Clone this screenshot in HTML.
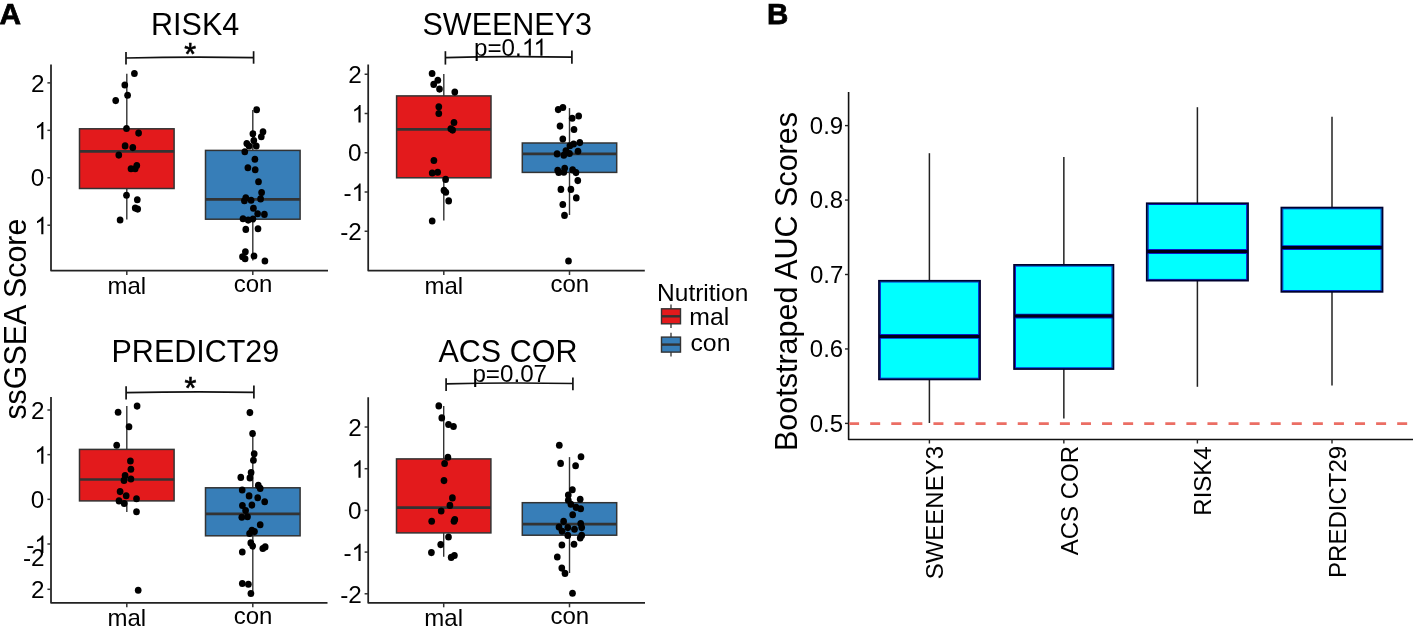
<!DOCTYPE html>
<html><head><meta charset="utf-8"><style>
html,body{margin:0;padding:0;background:#fff;}
svg{display:block;will-change:transform;}
text{font-family:"Liberation Sans", sans-serif;}
</style></head><body>
<svg width="1417" height="628" viewBox="0 0 1417 628">
<rect width="1417" height="628" fill="#fff"/>
<g transform="translate(151.07 35.20) scale(1 1.02)"><text x="0.00" font-size="30.5">RISK4</text></g>
<line x1="126.8" y1="73.8" x2="126.8" y2="128.8" stroke="#333333" stroke-width="1.4"/>
<line x1="126.8" y1="188.5" x2="126.8" y2="219.6" stroke="#333333" stroke-width="1.4"/>
<rect x="79.5" y="128.8" width="94.6" height="59.69999999999999" fill="#E31A1C" stroke="#333333" stroke-width="1.5"/>
<line x1="79.5" y1="151.4" x2="174.1" y2="151.4" stroke="#333333" stroke-width="2.7"/>
<line x1="252.8" y1="110.0" x2="252.8" y2="150.4" stroke="#333333" stroke-width="1.4"/>
<line x1="252.8" y1="219.2" x2="252.8" y2="260.5" stroke="#333333" stroke-width="1.4"/>
<rect x="205.5" y="150.4" width="94.6" height="68.79999999999998" fill="#377EB8" stroke="#333333" stroke-width="1.5"/>
<line x1="205.5" y1="199.4" x2="300.1" y2="199.4" stroke="#333333" stroke-width="2.7"/>
<ellipse cx="134.4" cy="73.5" rx="3.35" ry="3.55"/>
<ellipse cx="124.8" cy="85.0" rx="3.35" ry="3.55"/>
<ellipse cx="127.6" cy="95.2" rx="3.35" ry="3.55"/>
<ellipse cx="115.7" cy="100.6" rx="3.35" ry="3.55"/>
<ellipse cx="126.5" cy="128.5" rx="3.35" ry="3.55"/>
<ellipse cx="138.6" cy="133.1" rx="3.35" ry="3.55"/>
<ellipse cx="125.1" cy="145.9" rx="3.35" ry="3.55"/>
<ellipse cx="132.8" cy="147.6" rx="3.35" ry="3.55"/>
<ellipse cx="118.8" cy="155.1" rx="3.35" ry="3.55"/>
<ellipse cx="131" cy="168.8" rx="3.35" ry="3.55"/>
<ellipse cx="135.2" cy="168.8" rx="3.35" ry="3.55"/>
<ellipse cx="136.8" cy="165.5" rx="3.35" ry="3.55"/>
<ellipse cx="126.5" cy="195.2" rx="3.35" ry="3.55"/>
<ellipse cx="137.3" cy="199.7" rx="3.35" ry="3.55"/>
<ellipse cx="135.2" cy="208.1" rx="3.35" ry="3.55"/>
<ellipse cx="137.7" cy="209.1" rx="3.35" ry="3.55"/>
<ellipse cx="120.1" cy="220" rx="3.35" ry="3.55"/>
<ellipse cx="256.7" cy="109.7" rx="3.35" ry="3.55"/>
<ellipse cx="252.9" cy="133.8" rx="3.35" ry="3.55"/>
<ellipse cx="263" cy="131.8" rx="3.35" ry="3.55"/>
<ellipse cx="261.3" cy="136.8" rx="3.35" ry="3.55"/>
<ellipse cx="253.8" cy="140.6" rx="3.35" ry="3.55"/>
<ellipse cx="246.8" cy="143.6" rx="3.35" ry="3.55"/>
<ellipse cx="249.1" cy="146" rx="3.35" ry="3.55"/>
<ellipse cx="256.3" cy="146" rx="3.35" ry="3.55"/>
<ellipse cx="244.8" cy="151.7" rx="3.35" ry="3.55"/>
<ellipse cx="254.9" cy="159.2" rx="3.35" ry="3.55"/>
<ellipse cx="247.9" cy="167.7" rx="3.35" ry="3.55"/>
<ellipse cx="255.2" cy="169.7" rx="3.35" ry="3.55"/>
<ellipse cx="258.5" cy="181.8" rx="3.35" ry="3.55"/>
<ellipse cx="261.6" cy="192.6" rx="3.35" ry="3.55"/>
<ellipse cx="245.8" cy="197.9" rx="3.35" ry="3.55"/>
<ellipse cx="244.4" cy="200.8" rx="3.35" ry="3.55"/>
<ellipse cx="251.1" cy="200.3" rx="3.35" ry="3.55"/>
<ellipse cx="260.6" cy="198.9" rx="3.35" ry="3.55"/>
<ellipse cx="253.4" cy="208.2" rx="3.35" ry="3.55"/>
<ellipse cx="257.6" cy="213.7" rx="3.35" ry="3.55"/>
<ellipse cx="264.4" cy="214.4" rx="3.35" ry="3.55"/>
<ellipse cx="243" cy="218.7" rx="3.35" ry="3.55"/>
<ellipse cx="248.2" cy="220.1" rx="3.35" ry="3.55"/>
<ellipse cx="253" cy="219" rx="3.35" ry="3.55"/>
<ellipse cx="245.8" cy="229.4" rx="3.35" ry="3.55"/>
<ellipse cx="258" cy="228.7" rx="3.35" ry="3.55"/>
<ellipse cx="245.4" cy="251.7" rx="3.35" ry="3.55"/>
<ellipse cx="242.5" cy="256.7" rx="3.35" ry="3.55"/>
<ellipse cx="245.1" cy="258.8" rx="3.35" ry="3.55"/>
<ellipse cx="254" cy="256" rx="3.35" ry="3.55"/>
<ellipse cx="264.9" cy="261" rx="3.35" ry="3.55"/>
<path d="M51 64.5 V270.5 H328" fill="none" stroke="#222" stroke-width="1.75" stroke-linejoin="round"/>
<line x1="47.4" y1="82.87" x2="51" y2="82.87" stroke="#333" stroke-width="1.5"/>
<g transform="translate(31.11 91.65)"><text x="0.00" font-size="24.3">2</text></g>
<line x1="47.4" y1="130.32" x2="51" y2="130.32" stroke="#333" stroke-width="1.5"/>
<g transform="translate(34.35 139.35)"><path d="M9.05 0.00L6.92 0.00L6.92 -13.61Q6.15 -12.87 4.98 -12.19Q3.68 -11.41 2.65 -11.03L2.65 -13.10Q4.44 -13.94 5.78 -15.14Q7.12 -16.34 7.68 -17.47L9.05 -17.47Z"/></g>
<line x1="47.4" y1="177.77" x2="51" y2="177.77" stroke="#333" stroke-width="1.5"/>
<g transform="translate(30.83 186.43)"><text x="0.00" font-size="24.3">0</text></g>
<line x1="47.4" y1="225.22000000000003" x2="51" y2="225.22000000000003" stroke="#333" stroke-width="1.5"/>
<g transform="translate(34.35 234.25)"><path d="M9.05 0.00L6.92 0.00L6.92 -13.61Q6.15 -12.87 4.98 -12.19Q3.68 -11.41 2.65 -11.03L2.65 -13.10Q4.44 -13.94 5.78 -15.14Q7.12 -16.34 7.68 -17.47L9.05 -17.47Z"/></g>
<line x1="126.8" y1="270.5" x2="126.8" y2="275.0" stroke="#333" stroke-width="1.5"/>
<g transform="translate(107.47 293.78)"><text x="0.00" font-size="24">mal</text></g>
<line x1="252.8" y1="270.5" x2="252.8" y2="275.0" stroke="#333" stroke-width="1.5"/>
<g transform="translate(233.72 291.54)"><text x="0.00" font-size="24">con</text></g>
<line x1="126" y1="52" x2="126" y2="64.5" stroke="#111" stroke-width="1.7"/>
<line x1="253.6" y1="51.2" x2="253.6" y2="63.7" stroke="#111" stroke-width="1.7"/>
<path d="M126 58.0 Q189.8 56.4 253.6 57.6" fill="none" stroke="#111" stroke-width="1.7"/>
<g transform="translate(184.26 65.30)" stroke="#000" stroke-width="0.6"><text x="0.00" font-size="30.5">*</text></g>
<g transform="translate(422.53 35.20) scale(1 1.02)"><text x="0.00" font-size="30.5">SWEENEY3</text></g>
<line x1="443.8" y1="74.0" x2="443.8" y2="95.9" stroke="#333333" stroke-width="1.4"/>
<line x1="443.8" y1="177.8" x2="443.8" y2="220.5" stroke="#333333" stroke-width="1.4"/>
<rect x="396.6" y="95.9" width="94.4" height="81.9" fill="#E31A1C" stroke="#333333" stroke-width="1.5"/>
<line x1="396.6" y1="129.4" x2="491.0" y2="129.4" stroke="#333333" stroke-width="2.7"/>
<line x1="569.5" y1="108.1" x2="569.5" y2="143.0" stroke="#333333" stroke-width="1.4"/>
<line x1="569.5" y1="172.4" x2="569.5" y2="215.0" stroke="#333333" stroke-width="1.4"/>
<rect x="522.3" y="143.0" width="94.4" height="29.400000000000006" fill="#377EB8" stroke="#333333" stroke-width="1.5"/>
<line x1="522.3" y1="153.8" x2="616.7" y2="153.8" stroke="#333333" stroke-width="2.7"/>
<ellipse cx="432.1" cy="73.5" rx="3.35" ry="3.55"/>
<ellipse cx="437.8" cy="80.3" rx="3.35" ry="3.55"/>
<ellipse cx="433.7" cy="84.4" rx="3.35" ry="3.55"/>
<ellipse cx="439.5" cy="89.1" rx="3.35" ry="3.55"/>
<ellipse cx="454.8" cy="92.1" rx="3.35" ry="3.55"/>
<ellipse cx="438.8" cy="106.7" rx="3.35" ry="3.55"/>
<ellipse cx="438.8" cy="113.5" rx="3.35" ry="3.55"/>
<ellipse cx="454" cy="122.5" rx="3.35" ry="3.55"/>
<ellipse cx="450.8" cy="128.8" rx="3.35" ry="3.55"/>
<ellipse cx="452.6" cy="130.1" rx="3.35" ry="3.55"/>
<ellipse cx="433.9" cy="160.5" rx="3.35" ry="3.55"/>
<ellipse cx="432.2" cy="173" rx="3.35" ry="3.55"/>
<ellipse cx="437.7" cy="172.2" rx="3.35" ry="3.55"/>
<ellipse cx="445.6" cy="179.4" rx="3.35" ry="3.55"/>
<ellipse cx="444" cy="190.4" rx="3.35" ry="3.55"/>
<ellipse cx="445.8" cy="192.3" rx="3.35" ry="3.55"/>
<ellipse cx="448.7" cy="200.9" rx="3.35" ry="3.55"/>
<ellipse cx="432.2" cy="221" rx="3.35" ry="3.55"/>
<ellipse cx="558.2" cy="109.6" rx="3.35" ry="3.55"/>
<ellipse cx="562.9" cy="107.5" rx="3.35" ry="3.55"/>
<ellipse cx="572.2" cy="118.3" rx="3.35" ry="3.55"/>
<ellipse cx="578.7" cy="116" rx="3.35" ry="3.55"/>
<ellipse cx="560" cy="126.1" rx="3.35" ry="3.55"/>
<ellipse cx="574" cy="129.5" rx="3.35" ry="3.55"/>
<ellipse cx="562.8" cy="139" rx="3.35" ry="3.55"/>
<ellipse cx="569.9" cy="145.8" rx="3.35" ry="3.55"/>
<ellipse cx="573.6" cy="144" rx="3.35" ry="3.55"/>
<ellipse cx="579.8" cy="142.6" rx="3.35" ry="3.55"/>
<ellipse cx="578" cy="151.2" rx="3.35" ry="3.55"/>
<ellipse cx="565.9" cy="150.8" rx="3.35" ry="3.55"/>
<ellipse cx="557.1" cy="153.9" rx="3.35" ry="3.55"/>
<ellipse cx="563.8" cy="155.2" rx="3.35" ry="3.55"/>
<ellipse cx="569.5" cy="153.5" rx="3.35" ry="3.55"/>
<ellipse cx="557.7" cy="170.2" rx="3.35" ry="3.55"/>
<ellipse cx="564.7" cy="168.2" rx="3.35" ry="3.55"/>
<ellipse cx="558.7" cy="172.4" rx="3.35" ry="3.55"/>
<ellipse cx="563.8" cy="172.3" rx="3.35" ry="3.55"/>
<ellipse cx="572.6" cy="169.9" rx="3.35" ry="3.55"/>
<ellipse cx="576" cy="172.6" rx="3.35" ry="3.55"/>
<ellipse cx="577.8" cy="180.6" rx="3.35" ry="3.55"/>
<ellipse cx="560.9" cy="189.4" rx="3.35" ry="3.55"/>
<ellipse cx="570.9" cy="189.4" rx="3.35" ry="3.55"/>
<ellipse cx="576.3" cy="197.9" rx="3.35" ry="3.55"/>
<ellipse cx="562.8" cy="204.5" rx="3.35" ry="3.55"/>
<ellipse cx="564.5" cy="215.4" rx="3.35" ry="3.55"/>
<ellipse cx="568.5" cy="261" rx="3.35" ry="3.55"/>
<path d="M368.2 64.5 V270.5 H644.8" fill="none" stroke="#222" stroke-width="1.75" stroke-linejoin="round"/>
<line x1="364.59999999999997" y1="74.25" x2="368.2" y2="74.25" stroke="#333" stroke-width="1.5"/>
<g transform="translate(348.31 83.03)"><text x="0.00" font-size="24.3">2</text></g>
<line x1="364.59999999999997" y1="113.5" x2="368.2" y2="113.5" stroke="#333" stroke-width="1.5"/>
<g transform="translate(351.55 122.53)"><path d="M9.05 0.00L6.92 0.00L6.92 -13.61Q6.15 -12.87 4.98 -12.19Q3.68 -11.41 2.65 -11.03L2.65 -13.10Q4.44 -13.94 5.78 -15.14Q7.12 -16.34 7.68 -17.47L9.05 -17.47Z"/></g>
<line x1="364.59999999999997" y1="152.75" x2="368.2" y2="152.75" stroke="#333" stroke-width="1.5"/>
<g transform="translate(348.03 161.41)"><text x="0.00" font-size="24.3">0</text></g>
<line x1="364.59999999999997" y1="192.0" x2="368.2" y2="192.0" stroke="#333" stroke-width="1.5"/>
<g transform="translate(343.45 201.03)"><text x="0.00" font-size="24.3">-</text><path d="M17.15 0.00L15.01 0.00L15.01 -13.61Q14.24 -12.87 13.08 -12.19Q11.77 -11.41 10.74 -11.03L10.74 -13.10Q12.53 -13.94 13.87 -15.14Q15.21 -16.34 15.77 -17.47L17.15 -17.47Z"/></g>
<line x1="364.59999999999997" y1="231.25" x2="368.2" y2="231.25" stroke="#333" stroke-width="1.5"/>
<g transform="translate(340.22 240.03)"><text x="0.00" font-size="24.3">-2</text></g>
<line x1="443.8" y1="270.5" x2="443.8" y2="275.0" stroke="#333" stroke-width="1.5"/>
<g transform="translate(424.47 293.78)"><text x="0.00" font-size="24">mal</text></g>
<line x1="569.5" y1="270.5" x2="569.5" y2="275.0" stroke="#333" stroke-width="1.5"/>
<g transform="translate(550.42 291.54)"><text x="0.00" font-size="24">con</text></g>
<line x1="445.4" y1="51.2" x2="445.4" y2="64.6" stroke="#111" stroke-width="1.7"/>
<line x1="571.9" y1="50.400000000000006" x2="571.9" y2="63.8" stroke="#111" stroke-width="1.7"/>
<path d="M445.4 57.6 Q508.65 56.0 571.9 57.2" fill="none" stroke="#111" stroke-width="1.7"/>
<g transform="translate(474.04 55.80)"><text x="0.00" font-size="24.2">p=0.</text><path d="M56.79 0.00L54.66 0.00L54.66 -13.55Q53.89 -12.82 52.74 -12.14Q51.44 -11.37 50.41 -10.99L50.41 -13.05Q52.19 -13.88 53.53 -15.08Q54.86 -16.27 55.42 -17.39L56.79 -17.39Z"/><path d="M68.45 0.00L66.33 0.00L66.33 -13.55Q65.56 -12.82 64.40 -12.14Q63.10 -11.37 62.07 -10.99L62.07 -13.05Q63.86 -13.88 65.19 -15.08Q66.53 -16.27 67.08 -17.39L68.45 -17.39Z"/></g>
<g transform="translate(111.52 362.20) scale(1 1.02)"><text x="0.00" font-size="30.5">PREDICT29</text></g>
<line x1="126.8" y1="406.1" x2="126.8" y2="449.4" stroke="#333333" stroke-width="1.4"/>
<line x1="126.8" y1="500.9" x2="126.8" y2="512.1" stroke="#333333" stroke-width="1.4"/>
<rect x="79.5" y="449.4" width="94.6" height="51.5" fill="#E31A1C" stroke="#333333" stroke-width="1.5"/>
<line x1="79.5" y1="479.5" x2="174.1" y2="479.5" stroke="#333333" stroke-width="2.7"/>
<line x1="252.8" y1="434.0" x2="252.8" y2="487.8" stroke="#333333" stroke-width="1.4"/>
<line x1="252.8" y1="535.8" x2="252.8" y2="591.3" stroke="#333333" stroke-width="1.4"/>
<rect x="205.5" y="487.8" width="94.6" height="47.99999999999994" fill="#377EB8" stroke="#333333" stroke-width="1.5"/>
<line x1="205.5" y1="513.8" x2="300.1" y2="513.8" stroke="#333333" stroke-width="2.7"/>
<ellipse cx="137.1" cy="406.1" rx="3.35" ry="3.55"/>
<ellipse cx="118.1" cy="412.3" rx="3.35" ry="3.55"/>
<ellipse cx="129" cy="426.8" rx="3.35" ry="3.55"/>
<ellipse cx="116.7" cy="445.2" rx="3.35" ry="3.55"/>
<ellipse cx="130.4" cy="461" rx="3.35" ry="3.55"/>
<ellipse cx="130.9" cy="469.3" rx="3.35" ry="3.55"/>
<ellipse cx="125.1" cy="475.6" rx="3.35" ry="3.55"/>
<ellipse cx="130.9" cy="479" rx="3.35" ry="3.55"/>
<ellipse cx="124" cy="480.4" rx="3.35" ry="3.55"/>
<ellipse cx="120.1" cy="491.6" rx="3.35" ry="3.55"/>
<ellipse cx="126.2" cy="495.7" rx="3.35" ry="3.55"/>
<ellipse cx="136.5" cy="498.8" rx="3.35" ry="3.55"/>
<ellipse cx="119" cy="500.9" rx="3.35" ry="3.55"/>
<ellipse cx="124.2" cy="503.5" rx="3.35" ry="3.55"/>
<ellipse cx="136.5" cy="511.8" rx="3.35" ry="3.55"/>
<ellipse cx="138.2" cy="590.3" rx="3.35" ry="3.55"/>
<ellipse cx="249.9" cy="412.6" rx="3.35" ry="3.55"/>
<ellipse cx="252.6" cy="433.6" rx="3.35" ry="3.55"/>
<ellipse cx="254.2" cy="453.7" rx="3.35" ry="3.55"/>
<ellipse cx="253.4" cy="460.2" rx="3.35" ry="3.55"/>
<ellipse cx="251.1" cy="472.6" rx="3.35" ry="3.55"/>
<ellipse cx="240.8" cy="477.4" rx="3.35" ry="3.55"/>
<ellipse cx="249.9" cy="477.9" rx="3.35" ry="3.55"/>
<ellipse cx="258.3" cy="485.4" rx="3.35" ry="3.55"/>
<ellipse cx="260.2" cy="488.4" rx="3.35" ry="3.55"/>
<ellipse cx="242.2" cy="490" rx="3.35" ry="3.55"/>
<ellipse cx="249.1" cy="495.9" rx="3.35" ry="3.55"/>
<ellipse cx="257.7" cy="497.8" rx="3.35" ry="3.55"/>
<ellipse cx="264.7" cy="501.7" rx="3.35" ry="3.55"/>
<ellipse cx="242.4" cy="505.5" rx="3.35" ry="3.55"/>
<ellipse cx="251.9" cy="505.1" rx="3.35" ry="3.55"/>
<ellipse cx="245.6" cy="510.6" rx="3.35" ry="3.55"/>
<ellipse cx="241.8" cy="517.2" rx="3.35" ry="3.55"/>
<ellipse cx="247.5" cy="516.7" rx="3.35" ry="3.55"/>
<ellipse cx="260.2" cy="524.8" rx="3.35" ry="3.55"/>
<ellipse cx="251.9" cy="530.3" rx="3.35" ry="3.55"/>
<ellipse cx="254.5" cy="531.6" rx="3.35" ry="3.55"/>
<ellipse cx="249.6" cy="533.5" rx="3.35" ry="3.55"/>
<ellipse cx="250.8" cy="542.9" rx="3.35" ry="3.55"/>
<ellipse cx="252.7" cy="546.1" rx="3.35" ry="3.55"/>
<ellipse cx="262.8" cy="548.5" rx="3.35" ry="3.55"/>
<ellipse cx="265.2" cy="546.9" rx="3.35" ry="3.55"/>
<ellipse cx="242.3" cy="552" rx="3.35" ry="3.55"/>
<ellipse cx="242.3" cy="583.5" rx="3.35" ry="3.55"/>
<ellipse cx="248.4" cy="584.3" rx="3.35" ry="3.55"/>
<ellipse cx="250.9" cy="593.5" rx="3.35" ry="3.55"/>
<path d="M51 397 V602.8 H327.5" fill="none" stroke="#222" stroke-width="1.75" stroke-linejoin="round"/>
<line x1="47.4" y1="409.99" x2="51" y2="409.99" stroke="#333" stroke-width="1.5"/>
<g transform="translate(31.11 418.77)"><text x="0.00" font-size="24.3">2</text></g>
<line x1="47.4" y1="454.65999999999997" x2="51" y2="454.65999999999997" stroke="#333" stroke-width="1.5"/>
<g transform="translate(34.35 463.69)"><path d="M9.05 0.00L6.92 0.00L6.92 -13.61Q6.15 -12.87 4.98 -12.19Q3.68 -11.41 2.65 -11.03L2.65 -13.10Q4.44 -13.94 5.78 -15.14Q7.12 -16.34 7.68 -17.47L9.05 -17.47Z"/></g>
<line x1="47.4" y1="499.33" x2="51" y2="499.33" stroke="#333" stroke-width="1.5"/>
<g transform="translate(30.83 507.99)"><text x="0.00" font-size="24.3">0</text></g>
<line x1="47.4" y1="544.0" x2="51" y2="544.0" stroke="#333" stroke-width="1.5"/>
<g transform="translate(26.25 553.03)"><text x="0.00" font-size="24.3">-</text><path d="M17.15 0.00L15.01 0.00L15.01 -13.61Q14.24 -12.87 13.08 -12.19Q11.77 -11.41 10.74 -11.03L10.74 -13.10Q12.53 -13.94 13.87 -15.14Q15.21 -16.34 15.77 -17.47L17.15 -17.47Z"/></g>
<g transform="translate(23.02 566.08)"><text x="0.00" font-size="24.3">-2</text></g>
<line x1="47.4" y1="589.3" x2="51" y2="589.3" stroke="#333" stroke-width="1.5"/>
<g transform="translate(31.11 598.08)"><text x="0.00" font-size="24.3">2</text></g>
<line x1="126.8" y1="602.8" x2="126.8" y2="607.3" stroke="#333" stroke-width="1.5"/>
<g transform="translate(107.47 626.08)"><text x="0.00" font-size="24">mal</text></g>
<line x1="252.8" y1="602.8" x2="252.8" y2="607.3" stroke="#333" stroke-width="1.5"/>
<g transform="translate(233.72 623.84)"><text x="0.00" font-size="24">con</text></g>
<line x1="126.1" y1="386.3" x2="126.1" y2="399.4" stroke="#111" stroke-width="1.7"/>
<line x1="253.9" y1="385.5" x2="253.9" y2="398.59999999999997" stroke="#111" stroke-width="1.7"/>
<path d="M126.1 392.7 Q190.0 391.1 253.9 392.3" fill="none" stroke="#111" stroke-width="1.7"/>
<g transform="translate(184.46 399.20)" stroke="#000" stroke-width="0.6"><text x="0.00" font-size="30.5">*</text></g>
<g transform="translate(438.50 362.00) scale(1 1.02)"><text x="0.00" font-size="30.5">ACS COR</text></g>
<line x1="443.7" y1="406.1" x2="443.7" y2="458.9" stroke="#333333" stroke-width="1.4"/>
<line x1="443.7" y1="532.9" x2="443.7" y2="556.8" stroke="#333333" stroke-width="1.4"/>
<rect x="396.5" y="458.9" width="94.4" height="74.0" fill="#E31A1C" stroke="#333333" stroke-width="1.5"/>
<line x1="396.5" y1="507.6" x2="490.9" y2="507.6" stroke="#333333" stroke-width="2.7"/>
<line x1="569.5" y1="457.1" x2="569.5" y2="502.7" stroke="#333333" stroke-width="1.4"/>
<line x1="569.5" y1="535.2" x2="569.5" y2="573.0" stroke="#333333" stroke-width="1.4"/>
<rect x="522.3" y="502.7" width="94.4" height="32.50000000000006" fill="#377EB8" stroke="#333333" stroke-width="1.5"/>
<line x1="522.3" y1="524.1" x2="616.7" y2="524.1" stroke="#333333" stroke-width="2.7"/>
<ellipse cx="438.8" cy="405.9" rx="3.35" ry="3.55"/>
<ellipse cx="441.8" cy="417.9" rx="3.35" ry="3.55"/>
<ellipse cx="448.5" cy="424.5" rx="3.35" ry="3.55"/>
<ellipse cx="453.5" cy="426.5" rx="3.35" ry="3.55"/>
<ellipse cx="447.9" cy="457.3" rx="3.35" ry="3.55"/>
<ellipse cx="444.6" cy="463.5" rx="3.35" ry="3.55"/>
<ellipse cx="444" cy="480.6" rx="3.35" ry="3.55"/>
<ellipse cx="452.4" cy="497.9" rx="3.35" ry="3.55"/>
<ellipse cx="449.9" cy="505.4" rx="3.35" ry="3.55"/>
<ellipse cx="441.2" cy="511" rx="3.35" ry="3.55"/>
<ellipse cx="431.7" cy="521.2" rx="3.35" ry="3.55"/>
<ellipse cx="454.8" cy="519.5" rx="3.35" ry="3.55"/>
<ellipse cx="454" cy="521.3" rx="3.35" ry="3.55"/>
<ellipse cx="448.5" cy="537" rx="3.35" ry="3.55"/>
<ellipse cx="440.7" cy="544.6" rx="3.35" ry="3.55"/>
<ellipse cx="431.4" cy="552.6" rx="3.35" ry="3.55"/>
<ellipse cx="451.2" cy="557.4" rx="3.35" ry="3.55"/>
<ellipse cx="454.4" cy="555.5" rx="3.35" ry="3.55"/>
<ellipse cx="559.3" cy="445.3" rx="3.35" ry="3.55"/>
<ellipse cx="581" cy="456.8" rx="3.35" ry="3.55"/>
<ellipse cx="560.6" cy="463.4" rx="3.35" ry="3.55"/>
<ellipse cx="575.6" cy="465.7" rx="3.35" ry="3.55"/>
<ellipse cx="572.4" cy="489.8" rx="3.35" ry="3.55"/>
<ellipse cx="568.3" cy="495" rx="3.35" ry="3.55"/>
<ellipse cx="568.3" cy="500.2" rx="3.35" ry="3.55"/>
<ellipse cx="580.2" cy="499.2" rx="3.35" ry="3.55"/>
<ellipse cx="570.9" cy="504.3" rx="3.35" ry="3.55"/>
<ellipse cx="576.1" cy="507.4" rx="3.35" ry="3.55"/>
<ellipse cx="580.7" cy="508.8" rx="3.35" ry="3.55"/>
<ellipse cx="572.7" cy="514.7" rx="3.35" ry="3.55"/>
<ellipse cx="563.6" cy="521.4" rx="3.35" ry="3.55"/>
<ellipse cx="559" cy="527.1" rx="3.35" ry="3.55"/>
<ellipse cx="562.1" cy="531.2" rx="3.35" ry="3.55"/>
<ellipse cx="567.8" cy="527.6" rx="3.35" ry="3.55"/>
<ellipse cx="574.5" cy="529.2" rx="3.35" ry="3.55"/>
<ellipse cx="580.7" cy="523.5" rx="3.35" ry="3.55"/>
<ellipse cx="581.7" cy="527.6" rx="3.35" ry="3.55"/>
<ellipse cx="567.8" cy="535.4" rx="3.35" ry="3.55"/>
<ellipse cx="581.7" cy="535.4" rx="3.35" ry="3.55"/>
<ellipse cx="580.2" cy="538" rx="3.35" ry="3.55"/>
<ellipse cx="561.9" cy="545" rx="3.35" ry="3.55"/>
<ellipse cx="574" cy="544.3" rx="3.35" ry="3.55"/>
<ellipse cx="557.3" cy="557" rx="3.35" ry="3.55"/>
<ellipse cx="561.8" cy="568.1" rx="3.35" ry="3.55"/>
<ellipse cx="565" cy="573.4" rx="3.35" ry="3.55"/>
<ellipse cx="572.5" cy="593.2" rx="3.35" ry="3.55"/>
<path d="M368.2 397.3 V602.8 H645.0" fill="none" stroke="#222" stroke-width="1.75" stroke-linejoin="round"/>
<line x1="364.59999999999997" y1="427.02" x2="368.2" y2="427.02" stroke="#333" stroke-width="1.5"/>
<g transform="translate(348.31 435.80)"><text x="0.00" font-size="24.3">2</text></g>
<line x1="364.59999999999997" y1="468.71" x2="368.2" y2="468.71" stroke="#333" stroke-width="1.5"/>
<g transform="translate(351.55 477.74)"><path d="M9.05 0.00L6.92 0.00L6.92 -13.61Q6.15 -12.87 4.98 -12.19Q3.68 -11.41 2.65 -11.03L2.65 -13.10Q4.44 -13.94 5.78 -15.14Q7.12 -16.34 7.68 -17.47L9.05 -17.47Z"/></g>
<line x1="364.59999999999997" y1="510.4" x2="368.2" y2="510.4" stroke="#333" stroke-width="1.5"/>
<g transform="translate(348.03 519.06)"><text x="0.00" font-size="24.3">0</text></g>
<line x1="364.59999999999997" y1="552.0899999999999" x2="368.2" y2="552.0899999999999" stroke="#333" stroke-width="1.5"/>
<g transform="translate(343.45 561.12)"><text x="0.00" font-size="24.3">-</text><path d="M17.15 0.00L15.01 0.00L15.01 -13.61Q14.24 -12.87 13.08 -12.19Q11.77 -11.41 10.74 -11.03L10.74 -13.10Q12.53 -13.94 13.87 -15.14Q15.21 -16.34 15.77 -17.47L17.15 -17.47Z"/></g>
<line x1="364.59999999999997" y1="593.78" x2="368.2" y2="593.78" stroke="#333" stroke-width="1.5"/>
<g transform="translate(340.22 602.56)"><text x="0.00" font-size="24.3">-2</text></g>
<line x1="443.7" y1="602.8" x2="443.7" y2="607.3" stroke="#333" stroke-width="1.5"/>
<g transform="translate(424.37 626.08)"><text x="0.00" font-size="24">mal</text></g>
<line x1="569.5" y1="602.8" x2="569.5" y2="607.3" stroke="#333" stroke-width="1.5"/>
<g transform="translate(550.42 623.84)"><text x="0.00" font-size="24">con</text></g>
<line x1="446.1" y1="378.2" x2="446.1" y2="391.1" stroke="#111" stroke-width="1.7"/>
<line x1="572.9" y1="377.4" x2="572.9" y2="390.3" stroke="#111" stroke-width="1.7"/>
<path d="M446.1 383.9 Q509.5 382.3 572.9 383.5" fill="none" stroke="#111" stroke-width="1.7"/>
<g transform="translate(472.38 381.80)"><text x="0.00" font-size="24.2">p=0.07</text></g>
<text font-size="29.8" font-weight="bold" transform="translate(-0.50 23.70)" stroke="#000" stroke-width="0.75">A</text>
<g transform="translate(25.90 318.50) rotate(-90) scale(1 1.03) translate(-101.12 0)"><text x="0.00" font-size="30.4">ssGSEA Score</text></g>
<g transform="translate(657.09 300.50)"><text x="0.00" font-size="24.5">Nutrition</text></g>
<line x1="671" y1="304.5" x2="671" y2="328.1" stroke="#333333" stroke-width="1.3"/>
<rect x="661.5" y="308.8" width="19" height="15" fill="#E31A1C" stroke="#333333" stroke-width="1.4"/>
<line x1="661.5" y1="316.3" x2="680.5" y2="316.3" stroke="#333333" stroke-width="2.4"/>
<g transform="translate(689.25 325.16)"><text x="0.00" font-size="24.8">mal</text></g>
<line x1="671" y1="332.8" x2="671" y2="356.40000000000003" stroke="#333333" stroke-width="1.3"/>
<rect x="661.5" y="337.1" width="19" height="15" fill="#377EB8" stroke="#333333" stroke-width="1.4"/>
<line x1="661.5" y1="344.6" x2="680.5" y2="344.6" stroke="#333333" stroke-width="2.4"/>
<g transform="translate(690.45 351.15)"><text x="0.00" font-size="24.8">con</text></g>
<text font-size="29.5" font-weight="bold" transform="translate(767.00 23.70)" stroke="#000" stroke-width="0.75">B</text>
<path d="M848.6 92 V439.5 H1413" fill="none" stroke="#111" stroke-width="1.6" stroke-linejoin="round"/>
<line x1="845.0" y1="423.4" x2="848.6" y2="423.4" stroke="#222" stroke-width="1.4"/>
<g transform="translate(809.74 431.71) scale(1 0.97)"><text x="0.00" font-size="24">0.5</text></g>
<line x1="845.0" y1="348.95" x2="848.6" y2="348.95" stroke="#222" stroke-width="1.4"/>
<g transform="translate(809.79 357.26) scale(1 0.97)"><text x="0.00" font-size="24">0.6</text></g>
<line x1="845.0" y1="274.5" x2="848.6" y2="274.5" stroke="#222" stroke-width="1.4"/>
<g transform="translate(809.94 282.81) scale(1 0.97)"><text x="0.00" font-size="24">0.7</text></g>
<line x1="845.0" y1="200.04999999999995" x2="848.6" y2="200.04999999999995" stroke="#222" stroke-width="1.4"/>
<g transform="translate(809.78 208.36) scale(1 0.97)"><text x="0.00" font-size="24">0.8</text></g>
<line x1="845.0" y1="125.59999999999997" x2="848.6" y2="125.59999999999997" stroke="#222" stroke-width="1.4"/>
<g transform="translate(809.87 133.91) scale(1 0.97)"><text x="0.00" font-size="24">0.9</text></g>
<g transform="translate(796.90 280.00) rotate(-90) translate(-171.07 0)"><text x="0.00" font-size="30.5">Bootstraped AUC Scores</text></g>
<line x1="929.4" y1="153.2" x2="929.4" y2="280.8" stroke="#222" stroke-width="1.5"/>
<line x1="929.4" y1="379.4" x2="929.4" y2="423.0" stroke="#222" stroke-width="1.5"/>
<rect x="879.0" y="280.8" width="101.00" height="98.60" fill="#00FFFF"/>
<rect x="880.40" y="282.00" width="98.20" height="96.20" fill="none" stroke="#0A1ED2" stroke-width="1.0"/>
<line x1="879.0" y1="336.4" x2="980.0" y2="336.4" stroke="#0A1EC8" stroke-width="4.8"/>
<line x1="879.0" y1="336.4" x2="980.0" y2="336.4" stroke="#000014" stroke-width="3.0"/>
<rect x="879.0" y="280.8" width="101.00" height="98.60" fill="none" stroke="#00002E" stroke-width="1.8"/>
<line x1="929.4" y1="439.5" x2="929.4" y2="443.5" stroke="#222" stroke-width="1.4"/>
<g transform="translate(943.30 447.00) rotate(-90) scale(1 1.03) translate(-132.32 0)"><text x="0.00" font-size="24">SWEENEY3</text></g>
<line x1="1063.85" y1="156.9" x2="1063.85" y2="264.9" stroke="#222" stroke-width="1.5"/>
<line x1="1063.85" y1="369.0" x2="1063.85" y2="418.5" stroke="#222" stroke-width="1.5"/>
<rect x="1014.1" y="264.9" width="99.30" height="104.10" fill="#00FFFF"/>
<rect x="1015.50" y="266.10" width="96.50" height="101.70" fill="none" stroke="#0A1ED2" stroke-width="1.0"/>
<line x1="1014.1" y1="316.1" x2="1113.4" y2="316.1" stroke="#0A1EC8" stroke-width="4.8"/>
<line x1="1014.1" y1="316.1" x2="1113.4" y2="316.1" stroke="#000014" stroke-width="3.0"/>
<rect x="1014.1" y="264.9" width="99.30" height="104.10" fill="none" stroke="#00002E" stroke-width="1.8"/>
<line x1="1063.85" y1="439.5" x2="1063.85" y2="443.5" stroke="#222" stroke-width="1.4"/>
<g transform="translate(1077.75 447.00) rotate(-90) scale(1 1.03) translate(-108.23 0)"><text x="0.00" font-size="24">ACS COR</text></g>
<line x1="1197.4" y1="107.2" x2="1197.4" y2="203.3" stroke="#222" stroke-width="1.5"/>
<line x1="1197.4" y1="280.6" x2="1197.4" y2="386.8" stroke="#222" stroke-width="1.5"/>
<rect x="1146.8" y="203.3" width="101.20" height="77.30" fill="#00FFFF"/>
<rect x="1148.20" y="204.50" width="98.40" height="74.90" fill="none" stroke="#0A1ED2" stroke-width="1.0"/>
<line x1="1146.8" y1="251.5" x2="1248.0" y2="251.5" stroke="#0A1EC8" stroke-width="4.8"/>
<line x1="1146.8" y1="251.5" x2="1248.0" y2="251.5" stroke="#000014" stroke-width="3.0"/>
<rect x="1146.8" y="203.3" width="101.20" height="77.30" fill="none" stroke="#00002E" stroke-width="1.8"/>
<line x1="1197.4" y1="439.5" x2="1197.4" y2="443.5" stroke="#222" stroke-width="1.4"/>
<g transform="translate(1211.30 447.00) rotate(-90) scale(1 1.03) translate(-68.66 0)"><text x="0.00" font-size="24">RISK4</text></g>
<line x1="1332.0" y1="116.8" x2="1332.0" y2="207.6" stroke="#222" stroke-width="1.5"/>
<line x1="1332.0" y1="291.8" x2="1332.0" y2="385.6" stroke="#222" stroke-width="1.5"/>
<rect x="1281.4" y="207.6" width="101.10" height="84.20" fill="#00FFFF"/>
<rect x="1282.80" y="208.80" width="98.30" height="81.80" fill="none" stroke="#0A1ED2" stroke-width="1.0"/>
<line x1="1281.4" y1="247.6" x2="1382.5" y2="247.6" stroke="#0A1EC8" stroke-width="4.8"/>
<line x1="1281.4" y1="247.6" x2="1382.5" y2="247.6" stroke="#000014" stroke-width="3.0"/>
<rect x="1281.4" y="207.6" width="101.10" height="84.20" fill="none" stroke="#00002E" stroke-width="1.8"/>
<line x1="1332.0" y1="439.5" x2="1332.0" y2="443.5" stroke="#222" stroke-width="1.4"/>
<g transform="translate(1345.90 447.00) rotate(-90) scale(1 1.03) translate(-130.90 0)"><text x="0.00" font-size="24">PREDICT29</text></g>
<line x1="849.1" y1="423.6" x2="1413" y2="423.6" stroke="#EB6E64" stroke-width="2.6" stroke-dasharray="10 11.08"/>
</svg>
</body></html>
